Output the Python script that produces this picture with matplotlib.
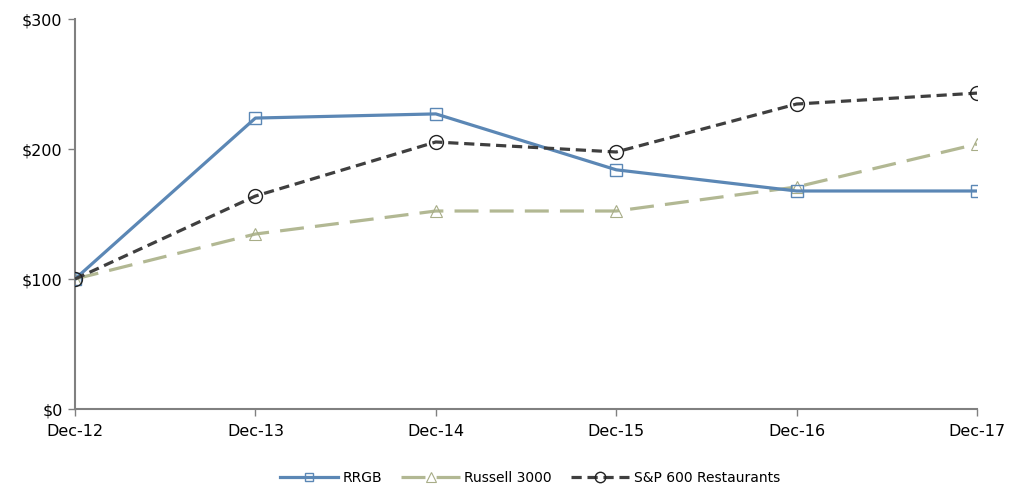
import matplotlib
matplotlib.use('Agg')
import matplotlib.pyplot as plt

plt.rcParams['font.family'] = ['DejaVu Sans']

periods = ['Dec-12', 'Dec-13', 'Dec-14', 'Dec-15', 'Dec-16', 'Dec-17']
rrgb = [100, 223.8, 227.0, 184.0, 167.7, 167.7]
russell = [100, 134.6, 152.3, 152.3, 170.8, 203.8]
sp600 = [100, 163.8, 205.4, 197.7, 234.6, 243.0]

fig = plt.figure(figsize=(10.15, 4.97), dpi=100)
ax = fig.add_axes([75/1015, 1-409/497, (977-75)/1015, (409-19)/497])

x = range(len(periods))
ax.plot(x, rrgb, color='#5b87b5', lw=2.3, marker='s', ms=8.5, mfc='none',
        mec='#5b87b5', mew=1, label='RRGB', zorder=3)
ax.plot(x, russell, color='#b2b893', lw=2.3, ls=(0, (7.5, 3.5)), marker='^', ms=9,
        mfc='none', mec='#a8ad88', mew=0.8, label='Russell 3000', zorder=2)
ax.plot(x, sp600, color='#3f3f3f', lw=2.3, ls=(0, (3.2, 1.8)), marker='o', ms=10,
        mfc='none', mec='#222222', mew=1, label='S&P 600 Restaurants', zorder=4)

ax.set_xlim(0, 5)
ax.set_ylim(0, 300)
ax.set_xticks(list(x))
ax.set_xticklabels(periods)
ax.set_yticks([0, 100, 200, 300])
ax.set_yticklabels(['$0', '$100', '$200', '$300'])
for s in ['top', 'right']:
    ax.spines[s].set_visible(False)
for s in ['left', 'bottom']:
    ax.spines[s].set_color('#808080')
    ax.spines[s].set_linewidth(1.5)
ax.tick_params(axis='both', colors='#808080', length=5, width=1, labelsize=11.5,
               labelcolor='black')
ax.tick_params(axis='x', pad=6)
ax.tick_params(axis='y', pad=4)

fig.legend(loc='lower center', bbox_to_anchor=(0.522, 0.0), ncol=3, frameon=False,
           fontsize=10, handlelength=4.2, columnspacing=1.4, handletextpad=0.3,
           markerscale=0.75)

fig.savefig('out.png', dpi=100)
